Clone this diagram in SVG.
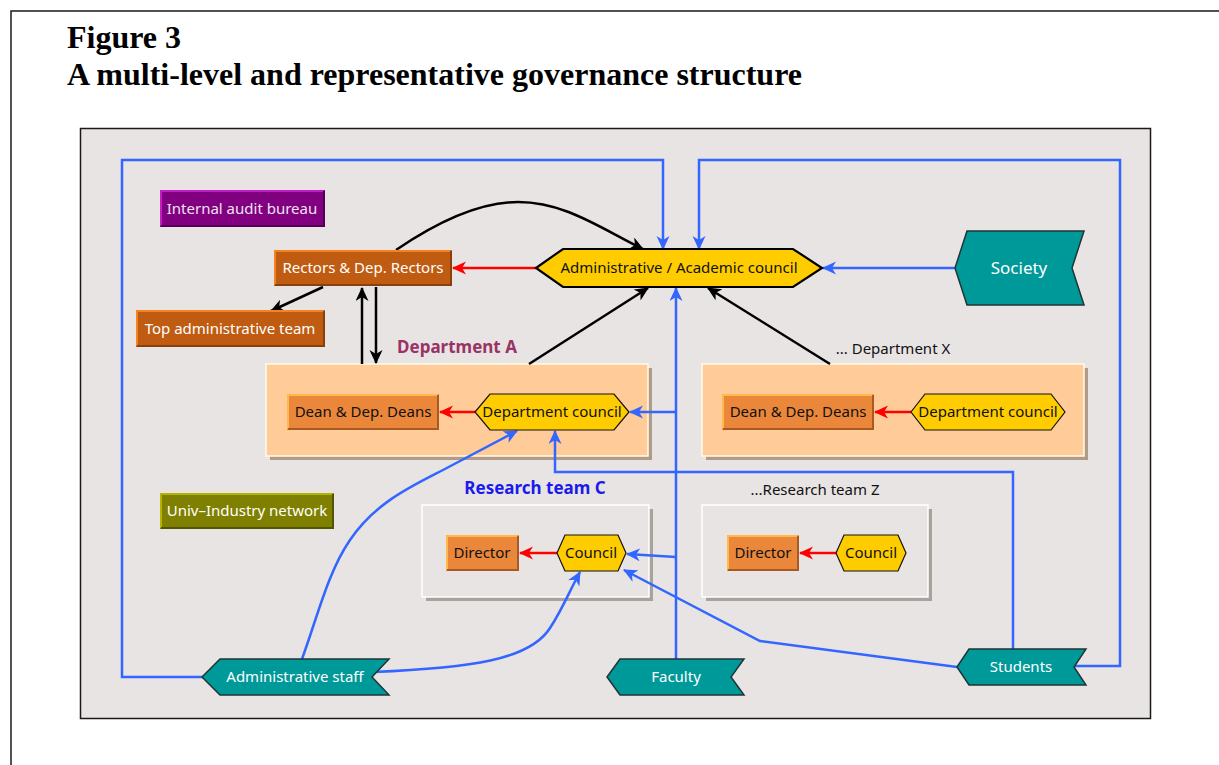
<svg xmlns="http://www.w3.org/2000/svg" width="1219" height="765" viewBox="0 0 1219 765">
  <style>
    .frame { fill: none; stroke: #1a1a1a; stroke-width: 1.5; }
    .panel { fill: #e8e4e3; stroke: #1a1a1a; stroke-width: 1.5; }
    .title { font-family: "Liberation Serif", "Times New Roman", serif; font-weight: bold; font-size: 32px; fill: #000; }
    .t { font-family: "Noto Sans", "DejaVu Sans", sans-serif; font-size: 15px; text-anchor: middle; }
    .w { fill: #ffffff; }
    .wp { fill: #f2e2f2; }
    .k { fill: #111111; }
    .lblA { font-family: "Noto Sans", sans-serif; font-weight: bold; font-size: 17px; fill: #993366; text-anchor: middle; }
    .lblC { font-family: "Noto Sans", sans-serif; font-weight: bold; font-size: 17px; fill: #1a1aee; text-anchor: middle; }
    .lbl { font-family: "Noto Sans", sans-serif; font-size: 15px; fill: #111; text-anchor: middle; }
    /* raised boxes: fill + light top/left edge + dark bottom/right edge */
    .rust { fill: #c05c12; }
    .rust-l { fill: none; stroke: #f5821f; stroke-width: 2; }
    .rust-d { fill: none; stroke: #8a400c; stroke-width: 2; }
    .plum { fill: #800080; }
    .plum-l { fill: none; stroke: #c41cc4; stroke-width: 2; }
    .plum-d { fill: none; stroke: #550055; stroke-width: 2; }
    .olive { fill: #808000; }
    .olive-l { fill: none; stroke: #b4b400; stroke-width: 2; }
    .olive-d { fill: none; stroke: #555500; stroke-width: 2; }
    .amber { fill: #ea873a; }
    .amber-l { fill: none; stroke: #ffb84a; stroke-width: 2; }
    .amber-d { fill: none; stroke: #a85a22; stroke-width: 2; }
    /* container frames */
    .dept { fill: #ffcc99; stroke: #fffbe8; stroke-width: 1.5; }
    .dept-sh { fill: #b09c86; }
    .team { fill: #e8e4e3; stroke: #ffffff; stroke-width: 1.5; }
    .team-sh { fill: #a8a29c; }
    .hex { fill: #ffcc00; stroke: #111; stroke-width: 1.2; }
    .hex-main { fill: #ffcc00; stroke: #000; stroke-width: 2.2; }
    .chev { fill: #009999; stroke: #1f3535; stroke-width: 1.5; }
    .ck { fill: none; stroke: #000; stroke-width: 2.5; marker-end: url(#ak); }
    .cr { fill: none; stroke: #ff0000; stroke-width: 2.5; marker-end: url(#ar); }
    .cb { fill: none; stroke: #3366ff; stroke-width: 2.5; marker-end: url(#ab); }
    .cbn { fill: none; stroke: #3366ff; stroke-width: 2.5; }
  </style>
  <defs>
    <marker id="ak" markerUnits="userSpaceOnUse" markerWidth="16" markerHeight="14" refX="13" refY="6.5" orient="auto">
      <path d="M0,0 L14,6.5 L0,13 L4,6.5 z" fill="#000"/>
    </marker>
    <marker id="ar" markerUnits="userSpaceOnUse" markerWidth="16" markerHeight="14" refX="13" refY="6.5" orient="auto">
      <path d="M0,0 L14,6.5 L0,13 L4,6.5 z" fill="#ff0000"/>
    </marker>
    <marker id="ab" markerUnits="userSpaceOnUse" markerWidth="16" markerHeight="14" refX="13" refY="6.5" orient="auto">
      <path d="M0,0 L14,6.5 L0,13 L4,6.5 z" fill="#3366ff"/>
    </marker>
  </defs>

  <!-- page frame and heading -->
  <path class="frame" d="M11,765 V11 H1219"/>
  <text class="title" x="67" y="48">Figure 3</text>
  <text class="title" x="67" y="85">A multi-level and representative governance structure</text>

  <!-- drawing area -->
  <rect class="panel" x="80.5" y="128.5" width="1070" height="590"/>

  <!-- containers -->
  <g id="department-a">
    <rect class="dept-sh" x="270" y="368" width="382" height="92"/>
    <rect class="dept" x="266" y="364" width="382" height="92"/>
    <text class="lblA" x="457" y="353">Department A</text>
  </g>
  <g id="department-x">
    <rect class="dept-sh" x="706" y="368" width="382" height="92"/>
    <rect class="dept" x="702" y="364" width="382" height="92"/>
    <text class="lbl" x="893" y="354">... Department X</text>
  </g>
  <g id="research-team-c">
    <rect class="team-sh" x="426" y="509" width="227" height="92"/>
    <rect class="team" x="422" y="505" width="227" height="92"/>
    <text class="lblC" x="535" y="494">Research team C</text>
  </g>
  <g id="research-team-z">
    <rect class="team-sh" x="706" y="509" width="226" height="92"/>
    <rect class="team" x="702" y="505" width="226" height="92"/>
    <text class="lbl" x="815" y="495">...Research team Z</text>
  </g>

  <!-- connectors -->
  <g id="connectors">
    <!-- black: reporting lines -->
    <path class="ck" d="M396,250 C440,220 480,202 518,202 C565,202 600,228 643,249"/>
    <path class="ck" d="M323,287 L271,311"/>
    <path class="ck" d="M362,364 L362,288"/>
    <path class="ck" d="M376,287 L376,363"/>
    <path class="ck" d="M529,364 L648,288"/>
    <path class="ck" d="M830,364 L708,288"/>
    <!-- red: councils to executives -->
    <path class="cr" d="M536,268 L453,268"/>
    <path class="cr" d="M475,412 L440,412"/>
    <path class="cr" d="M911,412 L875,412"/>
    <path class="cr" d="M557,553 L520,553"/>
    <path class="cr" d="M836,553 L800,553"/>
    <!-- blue: representation -->
    <path class="cb" d="M203,677 H122 V160 H663 V249"/>
    <path class="cb" d="M1075,666 H1120 V160 H699 V249"/>
    <path class="cb" d="M955,268 L823,268"/>
    <path class="cb" d="M676,659 V288"/>
    <path class="cb" d="M676,412 H630"/>
    <path class="cb" d="M676,557 L627,554"/>
    <path class="cb" d="M1013,649 V472 H555 V431"/>
    <path class="cb" d="M302,659 C318,615 328,572 350,540 C375,503 410,487 443,470 L517,431"/>
    <path class="cb" d="M373,672 C470,668 530,660 550,628 C562,610 570,590 580,572"/>
    <path class="cb" d="M957,667 L760,641 L624,570"/>
  </g>

  <!-- university-level bodies -->
  <g id="internal-audit-bureau">
    <rect class="plum" x="160" y="190" width="165" height="37"/>
    <path class="plum-l" d="M161,226 V191 H324"/>
    <path class="plum-d" d="M324,191 V226 H161"/>
    <text class="t wp" x="242" y="213.5">Internal audit bureau</text>
  </g>
  <g id="rectors">
    <rect class="rust" x="274" y="250" width="178" height="36"/>
    <path class="rust-l" d="M275,285 V251 H451"/>
    <path class="rust-d" d="M451,251 V285 H275"/>
    <text class="t w" x="363" y="273">Rectors &amp; Dep. Rectors</text>
  </g>
  <g id="top-administrative-team">
    <rect class="rust" x="136" y="310" width="189" height="37"/>
    <path class="rust-l" d="M137,346 V311 H324"/>
    <path class="rust-d" d="M324,311 V346 H137"/>
    <text class="t w" x="230" y="333.5">Top administrative team</text>
  </g>
  <g id="univ-industry-network">
    <rect class="olive" x="160" y="493" width="174" height="36"/>
    <path class="olive-l" d="M161,528 V494 H333"/>
    <path class="olive-d" d="M333,494 V528 H161"/>
    <text class="t w" x="247" y="516">Univ–Industry network</text>
  </g>
  <g id="academic-council">
    <polygon class="hex-main" points="536,268 563,249 793,249 822,268 793,287 563,287"/>
    <text class="t k" x="679" y="273">Administrative / Academic council</text>
  </g>

  <!-- department A -->
  <g id="dean-a">
    <rect class="amber" x="287" y="394" width="152" height="36"/>
    <path class="amber-l" d="M288,429 V395 H438"/>
    <path class="amber-d" d="M438,395 V429 H288"/>
    <text class="t k" x="363" y="417">Dean &amp; Dep. Deans</text>
  </g>
  <g id="council-a">
    <polygon class="hex" points="475,412 490,394 614,394 629,412 614,430 490,430"/>
    <text class="t k" x="552" y="417">Department council</text>
  </g>

  <!-- department X -->
  <g id="dean-x">
    <rect class="amber" x="722" y="394" width="152" height="36"/>
    <path class="amber-l" d="M723,429 V395 H873"/>
    <path class="amber-d" d="M873,395 V429 H723"/>
    <text class="t k" x="798" y="417">Dean &amp; Dep. Deans</text>
  </g>
  <g id="council-x">
    <polygon class="hex" points="911,412 925,394 1051,394 1065,412 1051,430 925,430"/>
    <text class="t k" x="988" y="417">Department council</text>
  </g>

  <!-- research team C -->
  <g id="director-c">
    <rect class="amber" x="446" y="535" width="73" height="36"/>
    <path class="amber-l" d="M447,570 V536 H518"/>
    <path class="amber-d" d="M518,536 V570 H447"/>
    <text class="t k" x="482" y="558">Director</text>
  </g>
  <g id="council-c">
    <polygon class="hex" points="557,553 565,535 618,535 626,553 618,571 565,571"/>
    <text class="t k" x="591" y="558">Council</text>
  </g>

  <!-- research team Z -->
  <g id="director-z">
    <rect class="amber" x="727" y="535" width="72" height="36"/>
    <path class="amber-l" d="M728,570 V536 H798"/>
    <path class="amber-d" d="M798,536 V570 H728"/>
    <text class="t k" x="763" y="558">Director</text>
  </g>
  <g id="council-z">
    <polygon class="hex" points="836,553 844,535 898,535 906,553 898,571 844,571"/>
    <text class="t k" x="871" y="558">Council</text>
  </g>

  <!-- stakeholder groups -->
  <g id="society">
    <polygon class="chev" points="955,268 967,231 1084,231 1072,268 1084,305 967,305"/>
    <text class="t w" x="1019" y="274" style="font-size:17px">Society</text>
  </g>
  <g id="administrative-staff">
    <polygon class="chev" points="202,677 220,659 389,659 372,677 389,695 220,695"/>
    <text class="t w" x="295" y="682">Administrative staff</text>
  </g>
  <g id="faculty">
    <polygon class="chev" points="607,677 620,659 744,659 731,677 744,695 620,695"/>
    <text class="t w" x="676" y="682">Faculty</text>
  </g>
  <g id="students">
    <polygon class="chev" points="957,667 969,649 1086,649 1074,667 1086,685 969,685"/>
    <text class="t w" x="1021" y="672">Students</text>
  </g>
</svg>
